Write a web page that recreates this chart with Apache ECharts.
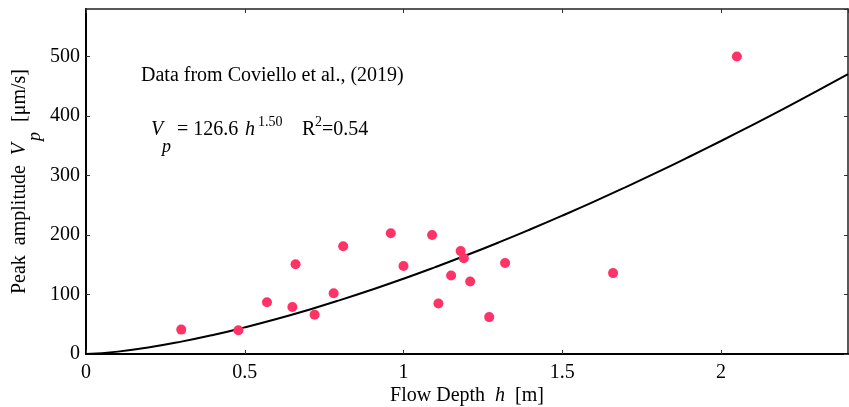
<!DOCTYPE html>
<html>
<head>
<meta charset="utf-8">
<script src="https://cdn.jsdelivr.net/npm/echarts@6/dist/echarts.min.js"></script>
<style>
html,body{margin:0;padding:0;background:#fff;}
#c{width:849px;height:407px;}
</style>
</head>
<body>
<div id="c"></div>
<script>
// Observed data (flow depth h [m], peak amplitude Vp [um/s])
const obsDepth = [0.30, 0.48, 0.57, 0.65, 0.66, 0.72, 0.78, 0.81, 0.96, 1.00, 1.09, 1.11, 1.15, 1.18, 1.19, 1.21, 1.27, 1.32, 1.66, 2.05];
const obsAmp   = [41, 40, 87, 79, 151, 66, 102, 181, 203, 148, 200, 85, 132, 173, 161, 122, 62, 153, 136, 500];

// Fitted curve (Vp = 126.6 h^1.50)
const fitDepth = [0, 0.1, 0.2, 0.3, 0.4, 0.5, 0.6, 0.7, 0.8, 0.9, 1.0, 1.1, 1.2, 1.3, 1.4, 1.5, 1.6, 1.7, 1.8, 1.9, 2.0, 2.1, 2.2, 2.3, 2.4];
const fitAmp   = [0, 4.0, 11.3, 20.8, 32.0, 44.8, 58.8, 74.1, 90.6, 108.1, 126.6, 146.1, 166.4, 187.6, 209.7, 232.6, 256.2, 280.6, 305.7, 331.6, 358.1, 385.3, 413.1, 441.6, 470.7];

const xTicks = [0, 0.5, 1, 1.5, 2];
const yTicks = [0, 100, 200, 300, 400, 500];

const FONT = '"Liberation Serif", "Times New Roman", serif';
const chart = echarts.init(document.getElementById('c'), null, {renderer: 'canvas'});

const obsData = obsDepth.map((h, i) => [h, obsAmp[i]]);
const fitData = fitDepth.map((h, i) => [h, fitAmp[i]]);

const axisLineStyle = {color: '#000', width: 2};
const tickStyle = {color: '#333', width: 1};

chart.setOption({
  animation: false,
  backgroundColor: '#fff',
  grid: {left: 86, right: 1, top: 9, bottom: 53, containLabel: false, outerBoundsMode: 'none'},
  xAxis: [{
    type: 'value', min: 0, max: 2.4, interval: 0.5, position: 'bottom',
    name: '{n|Flow Depth  }{i|h}{n|  [m]}',
    nameLocation: 'middle', nameGap: 32, nameMoveOverlap: false,
    nameTextStyle: {rich: {
      n: {fontFamily: FONT, fontSize: 20, color: '#000'},
      i: {fontFamily: FONT, fontSize: 20, fontStyle: 'italic', color: '#000'}
    }},
    axisLine: {show: true, onZero: false, lineStyle: axisLineStyle},
    axisTick: {show: true, inside: true, length: 4, lineStyle: tickStyle},
    axisLabel: {show: true, fontFamily: FONT, fontSize: 20, color: '#000', margin: 9, showMaxLabel: false,
      formatter: v => xTicks.some(t => Math.abs(t - v) < 1e-9) ? String(v) : ''},
    splitLine: {show: false}
  }, {
    type: 'value', min: 0, max: 2.4, interval: 0.5, position: 'top',
    axisLine: {show: true, onZero: false, lineStyle: {color: '#222', width: 1.5}},
    axisTick: {show: true, inside: true, length: 4, lineStyle: tickStyle},
    axisLabel: {show: false}, splitLine: {show: false}
  }],
  yAxis: [{
    type: 'value', min: 0, max: 580, interval: 100, position: 'left',
    name: '{n|Peak  amplitude  }{i|V}{s|p}{n|  [μm/s]}',
    nameLocation: 'middle', nameGap: 42, nameMoveOverlap: false,
    nameTextStyle: {rich: {
      n: {fontFamily: FONT, fontSize: 20, color: '#000'},
      i: {fontFamily: FONT, fontSize: 20, fontStyle: 'italic', color: '#000'},
      s: {fontFamily: FONT, fontSize: 18, fontStyle: 'italic', color: '#000', padding: [30, 0, 0, 2]}
    }},
    axisLine: {show: true, onZero: false, lineStyle: axisLineStyle},
    axisTick: {show: true, inside: true, length: 4, lineStyle: tickStyle},
    axisLabel: {show: true, fontFamily: FONT, fontSize: 20, color: '#000', margin: 6, showMaxLabel: false,
      formatter: v => yTicks.indexOf(v) >= 0 ? String(v) : ''},
    splitLine: {show: false}
  }, {
    type: 'value', min: 0, max: 580, interval: 100, position: 'right',
    axisLine: {show: true, onZero: false, lineStyle: {color: '#222', width: 1.5}},
    axisTick: {show: true, inside: true, length: 4, lineStyle: tickStyle},
    axisLabel: {show: false}, splitLine: {show: false}
  }],
  series: [{
    type: 'line', data: fitData, smooth: true, showSymbol: false, symbol: 'none',
    lineStyle: {color: '#000', width: 2}, z: 2, silent: true
  }, {
    type: 'scatter', data: obsData, symbol: 'circle', symbolSize: 10,
    itemStyle: {color: '#ff3366', opacity: 1}, z: 3
  }],
  graphic: [
    {type: 'text', left: 141, top: 66, style: {text: 'Data from Coviello et al., (2019)', font: '20px ' + FONT, fill: '#000'}},
    {type: 'text', left: 151, top: 120, style: {text: 'V', font: 'italic 20px ' + FONT, fill: '#000'}},
    {type: 'text', left: 162, top: 138, style: {text: 'p', font: 'italic 18px ' + FONT, fill: '#000'}},
    {type: 'text', left: 177, top: 120, style: {text: '= 126.6', font: '20px ' + FONT, fill: '#000'}},
    {type: 'text', left: 245, top: 120, style: {text: 'h', font: 'italic 20px ' + FONT, fill: '#000'}},
    {type: 'text', left: 258, top: 115, style: {text: '1.50', font: '14px ' + FONT, fill: '#000'}},
    {type: 'text', left: 302, top: 120, style: {text: 'R', font: '20px ' + FONT, fill: '#000'}},
    {type: 'text', left: 315, top: 115, style: {text: '2', font: '14px ' + FONT, fill: '#000'}},
    {type: 'text', left: 322, top: 120, style: {text: '=0.54', font: '20px ' + FONT, fill: '#000'}}
  ]
});
</script>
</body>
</html>
